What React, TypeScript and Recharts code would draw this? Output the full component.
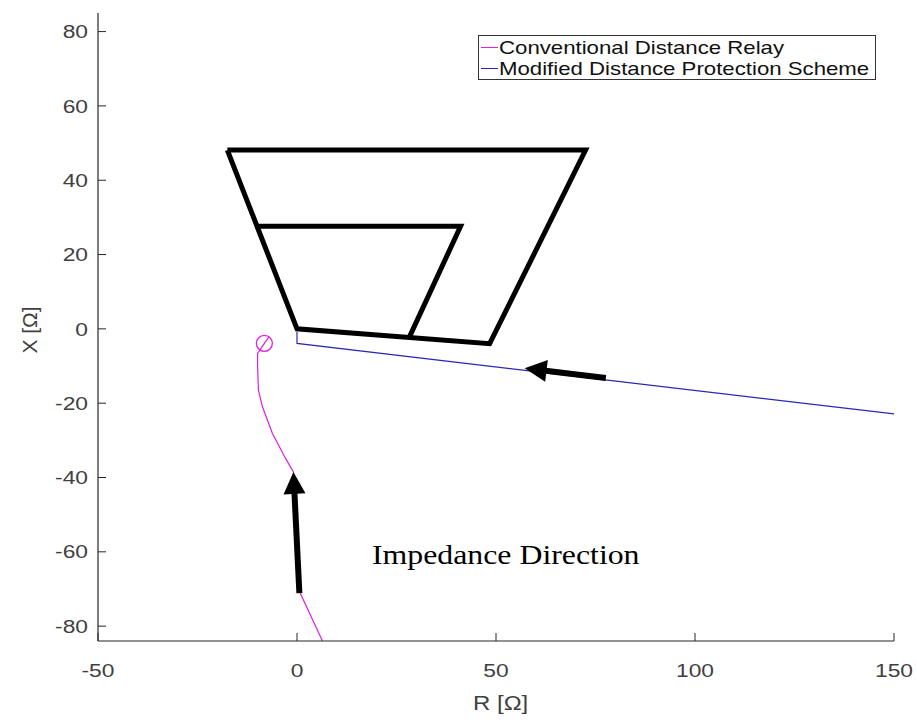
import React from "react";
import { ComposedChart, Line, Scatter, XAxis, YAxis, ReferenceLine } from "recharts";

// R / X plane (ohms)
const R_TICKS = [-50, 0, 50, 100, 150];
const X_TICKS = [-80, -60, -40, -20, 0, 20, 40, 60, 80];
const R_DOMAIN = [-50, 150];
const X_DOMAIN = [-84, 85];

// quadrilateral zone characteristic
const ZONE_OUTER = [
  { re: -17.5, im: 48.1 },
  { re: 72.5, im: 48.1 },
  { re: 48.4, im: -4.0 },
  { re: 0, im: 0 },
  { re: -17.5, im: 48.1 },
];
const ZONE_INNER = [
  { re: -10, im: 27.6 },
  { re: 41.1, im: 27.6 },
  { re: 28.2, im: -2.3 },
];

// impedance trajectories
const CONVENTIONAL = [
  { re: 6.4, im: -84 },
  { re: 0.8, im: -71.1 },
  { re: -0.9, im: -38.5 },
  { re: -2.8, im: -35.0 },
  { re: -6.2, im: -28.1 },
  { re: -8.7, im: -20.9 },
  { re: -9.7, im: -16.5 },
  { re: -9.9, im: -10.2 },
  { re: -9.9, im: -6.6 },
  { re: -8.2, im: -3.9 },
  { re: -7.0, im: -2.1 },
];
const CONVENTIONAL_END = [{ re: -8.2, im: -3.9 }];
const MODIFIED = [
  { re: 0, im: -0.8 },
  { re: 0, im: -3.9 },
  { re: 150, im: -22.9 },
];

// direction arrows: [tail, tip]
const ARROWS = [
  [{ re: 77.6, im: -13.2 }, { re: 57.2, im: -10.6 }],
  [{ re: 0.6, im: -71.1 }, { re: -0.9, im: -38.5 }],
];

const SERIES = [
  { name: "Conventional Distance Relay", color: "#e01ee0" },
  { name: "Modified Distance Protection Scheme", color: "#2828b4" },
];

const AXIS = "#262626";
const TICK_GAP = 10;
const TICK_LEN = 8;
const X_LABEL_DROP = 19;
const STRETCH = 1.2;
const SANS = "'Liberation Sans', Arial, sans-serif";

function YTick({ x, y, payload }: any) {
  return (
    <g>
      <line x1={x + TICK_GAP} x2={x + TICK_GAP + TICK_LEN} y1={y} y2={y} stroke={AXIS} strokeWidth={1} />
      <text
        transform={`translate(${x},${y}) scale(${STRETCH},1)`}
        dy="0.35em"
        textAnchor="end"
        fill="#404040"
        fontSize={19}
        fontFamily={SANS}
      >
        {payload.value}
      </text>
    </g>
  );
}

function XTick({ x, y, payload }: any) {
  return (
    <g>
      <line x1={x} x2={x} y1={y - TICK_GAP} y2={y - TICK_GAP - TICK_LEN} stroke={AXIS} strokeWidth={1} />
      <text
        transform={`translate(${x},${y + X_LABEL_DROP}) scale(${STRETCH},1)`}
        dy="0.35em"
        textAnchor="middle"
        fill="#404040"
        fontSize={19}
        fontFamily={SANS}
      >
        {payload.value}
      </text>
    </g>
  );
}

function Arrow({ x1, y1, x2, y2 }: any) {
  const dx = x2 - x1;
  const dy = y2 - y1;
  const len = Math.hypot(dx, dy) || 1;
  const ux = dx / len;
  const uy = dy / len;
  const head = 22;
  const half = 11;
  const bx = x2 - ux * head;
  const by = y2 - uy * head;
  const pts = [
    [x2, y2],
    [bx - uy * half, by + ux * half],
    [bx + uy * half, by - ux * half],
  ]
    .map((p) => p.join(","))
    .join(" ");
  return (
    <g>
      <line x1={x1} y1={y1} x2={bx + ux} y2={by + uy} stroke="#000" strokeWidth={6} />
      <polygon points={pts} fill="#000" />
    </g>
  );
}

function CircleMarker({ cx, cy }: any) {
  return <circle cx={cx} cy={cy} r={8} fill="none" stroke={SERIES[0].color} strokeWidth={1.3} />;
}

const stretched: React.CSSProperties = {
  display: "inline-block",
  transform: `scaleX(${STRETCH})`,
  transformOrigin: "left center",
};

function LegendBox() {
  return (
    <div
      style={{
        position: "absolute",
        left: 478,
        top: 35,
        width: 398,
        height: 45,
        boxSizing: "border-box",
        border: "1px solid #333",
        background: "#fff",
        padding: "1px 0 0 2px",
        fontFamily: SANS,
        fontSize: 18.5,
        color: "#111",
        lineHeight: "21px",
      }}
    >
      {SERIES.map((s) => (
        <div key={s.name} style={{ display: "flex", alignItems: "center", whiteSpace: "nowrap" }}>
          <span style={{ width: 17, height: 0, borderTop: `1px solid ${s.color}`, marginRight: 1 }} />
          <span style={stretched}>{s.name}</span>
        </div>
      ))}
    </div>
  );
}

export default function App() {
  return (
    <div style={{ position: "absolute", left: 0, top: 0, width: 917, height: 723, background: "#fff" }}>
      <ComposedChart width={917} height={723} margin={{ top: 13, right: 23, left: 0, bottom: 0 }}>
        <XAxis
          type="number"
          dataKey="re"
          domain={R_DOMAIN}
          ticks={R_TICKS}
          allowDataOverflow
          height={82}
          tickSize={0}
          tickMargin={TICK_GAP}
          tickLine={false}
          tick={<XTick />}
          axisLine={{ stroke: AXIS, strokeWidth: 1.2 }}
        />
        <YAxis
          type="number"
          dataKey="im"
          domain={X_DOMAIN}
          ticks={X_TICKS}
          allowDataOverflow
          width={98}
          tickSize={0}
          tickMargin={TICK_GAP}
          tickLine={false}
          tick={<YTick />}
          axisLine={{ stroke: AXIS, strokeWidth: 1.2 }}
        />
        <Line data={ZONE_OUTER} dataKey="im" stroke="#000" strokeWidth={5} dot={false} legendType="none" isAnimationActive={false} />
        <Line data={ZONE_INNER} dataKey="im" stroke="#000" strokeWidth={5} dot={false} legendType="none" isAnimationActive={false} />
        <Line
          data={CONVENTIONAL}
          dataKey="im"
          name={SERIES[0].name}
          stroke={SERIES[0].color}
          strokeWidth={1.2}
          dot={false}
          isAnimationActive={false}
        />
        <Scatter data={CONVENTIONAL_END} dataKey="im" shape={<CircleMarker />} legendType="none" isAnimationActive={false} />
        <Line
          data={MODIFIED}
          dataKey="im"
          name={SERIES[1].name}
          stroke={SERIES[1].color}
          strokeWidth={1.2}
          dot={false}
          isAnimationActive={false}
        />
        {ARROWS.map(([tail, tip], i) => (
          <ReferenceLine
            key={i}
            segment={[
              { x: tail.re, y: tail.im },
              { x: tip.re, y: tip.im },
            ]}
            ifOverflow="visible"
            shape={<Arrow />}
          />
        ))}
      </ComposedChart>

      <LegendBox />

      {/* axis titles */}
      <div
        style={{
          position: "absolute",
          left: 30,
          top: 330,
          transform: "translate(-50%, -50%) rotate(-90deg)",
          fontFamily: SANS,
          fontSize: 21,
          color: "#404040",
          whiteSpace: "nowrap",
        }}
      >
        X [Ω]
      </div>
      <div
        style={{
          position: "absolute",
          left: 473,
          top: 692,
          fontFamily: SANS,
          fontSize: 20,
          color: "#404040",
          whiteSpace: "nowrap",
        }}
      >
        <span style={stretched}>R [Ω]</span>
      </div>

      <div
        style={{
          position: "absolute",
          left: 372,
          top: 540,
          fontFamily: "'Liberation Serif', 'Times New Roman', serif",
          fontSize: 26.5,
          color: "#000",
          whiteSpace: "nowrap",
        }}
      >
        <span style={stretched}>Impedance Direction</span>
      </div>
    </div>
  );
}
